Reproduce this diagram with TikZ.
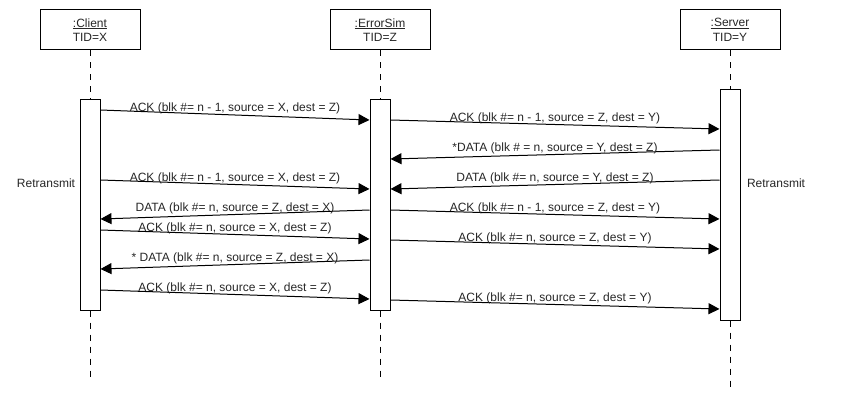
\documentclass[tikz,border=0pt]{standalone}
\usepackage{fontspec}
\setmainfont{Liberation Sans}
\usetikzlibrary{arrows.meta}
\begin{document}
\begin{tikzpicture}[x=1pt, y=-1pt]
        % Define styles
        \tikzset{
            head/.style={draw, line width=1pt, minimum width=100pt, minimum height=40pt, align=center, font=\fontsize{12}{14.5}\selectfont, text=black!85},
            act/.style={draw, fill=white, line width=1pt, minimum width=20pt},
            lifeline/.style={line width=1pt, dash pattern=on 6pt off 6pt},
            msg/.style={-{Triangle[length=11pt, width=11pt]}, line width=1pt},
            msglabel/.style={font=\fontsize{12}{14}\selectfont, text=black!85, above, inner sep=0.5pt},
            note/.style={font=\fontsize{12}{14}\selectfont, text=black!85}
        }
        \useasboundingbox (0,0) rectangle (860,420);
        % Lifeline heads
        \node[head] (client) at (90,30) {\underline{:Client}\\TID=X};
        \node[head] (errsim) at (380,30) {\underline{:ErrorSim}\\TID=Z};
        \node[head] (server) at (730,30) {\underline{:Server}\\TID=Y};
        % Ends of the lifelines
        \coordinate (clientend) at (90,377);
        \coordinate (errsimend) at (380,377);
        \coordinate (serverend) at (730,387);
        % Activation bars
        \node[act, minimum height=210pt] (clientact) at (90,205) {};
        \node[act, minimum height=210pt] (errsimact) at (380,205) {};
        \node[act, minimum height=230pt] (serveract) at (730,205) {};
        % Dashed lifelines
        \foreach \n in {client, errsim, server} {
            \draw[lifeline] (\n.south) -- (\n act.north);
            \draw[lifeline] (\n act.south) -- (\n end);
        }
        % Notes
        \node[note] (retransc) at (46,183) {Retransmit};
        \node[note] (retranss) at (776,183) {Retransmit};
        % Messages
        \draw[msg] (clientact.east |- 0,110) -- (errsimact.west |- 0,120)
            node[msglabel, midway] {ACK (blk \#= n - 1, source = X, dest = Z)};
        \draw[msg] (errsimact.east |- 0,120) -- (serveract.west |- 0,129)
            node[msglabel, midway] {ACK (blk \#= n - 1, source = Z, dest = Y)};
        \draw[msg] (serveract.west |- 0,150) -- (errsimact.east |- 0,159)
            node[msglabel, midway] {*DATA (blk \# = n, source = Y, dest = Z)};
        \draw[msg] (serveract.west |- 0,180) -- (errsimact.east |- 0,189)
            node[msglabel, midway] {DATA (blk \#= n, source = Y, dest = Z)};
        \draw[msg] (clientact.east |- 0,180) -- (errsimact.west |- 0,189)
            node[msglabel, midway] {ACK (blk \#= n - 1, source = X, dest = Z)};
        \draw[msg] (errsimact.west |- 0,210) -- (clientact.east |- 0,219)
            node[msglabel, midway] {DATA (blk \#= n, source = Z, dest = X)};
        \draw[msg] (errsimact.east |- 0,210) -- (serveract.west |- 0,219)
            node[msglabel, midway] {ACK (blk \#= n - 1, source = Z, dest = Y)};
        \draw[msg] (clientact.east |- 0,230) -- (errsimact.west |- 0,239)
            node[msglabel, midway] {ACK (blk \#= n, source = X, dest = Z)};
        \draw[msg] (errsimact.east |- 0,240) -- (serveract.west |- 0,249)
            node[msglabel, midway] {ACK (blk \#= n, source = Z, dest = Y)};
        \draw[msg] (errsimact.west |- 0,260) -- (clientact.east |- 0,269)
            node[msglabel, midway] {* DATA (blk \#= n, source = Z, dest = X)};
        \draw[msg] (clientact.east |- 0,290) -- (errsimact.west |- 0,299)
            node[msglabel, midway] {ACK (blk \#= n, source = X, dest = Z)};
        \draw[msg] (errsimact.east |- 0,300) -- (serveract.west |- 0,309)
            node[msglabel, midway] {ACK (blk \#= n, source = Z, dest = Y)};
    \end{tikzpicture}
\end{document}
